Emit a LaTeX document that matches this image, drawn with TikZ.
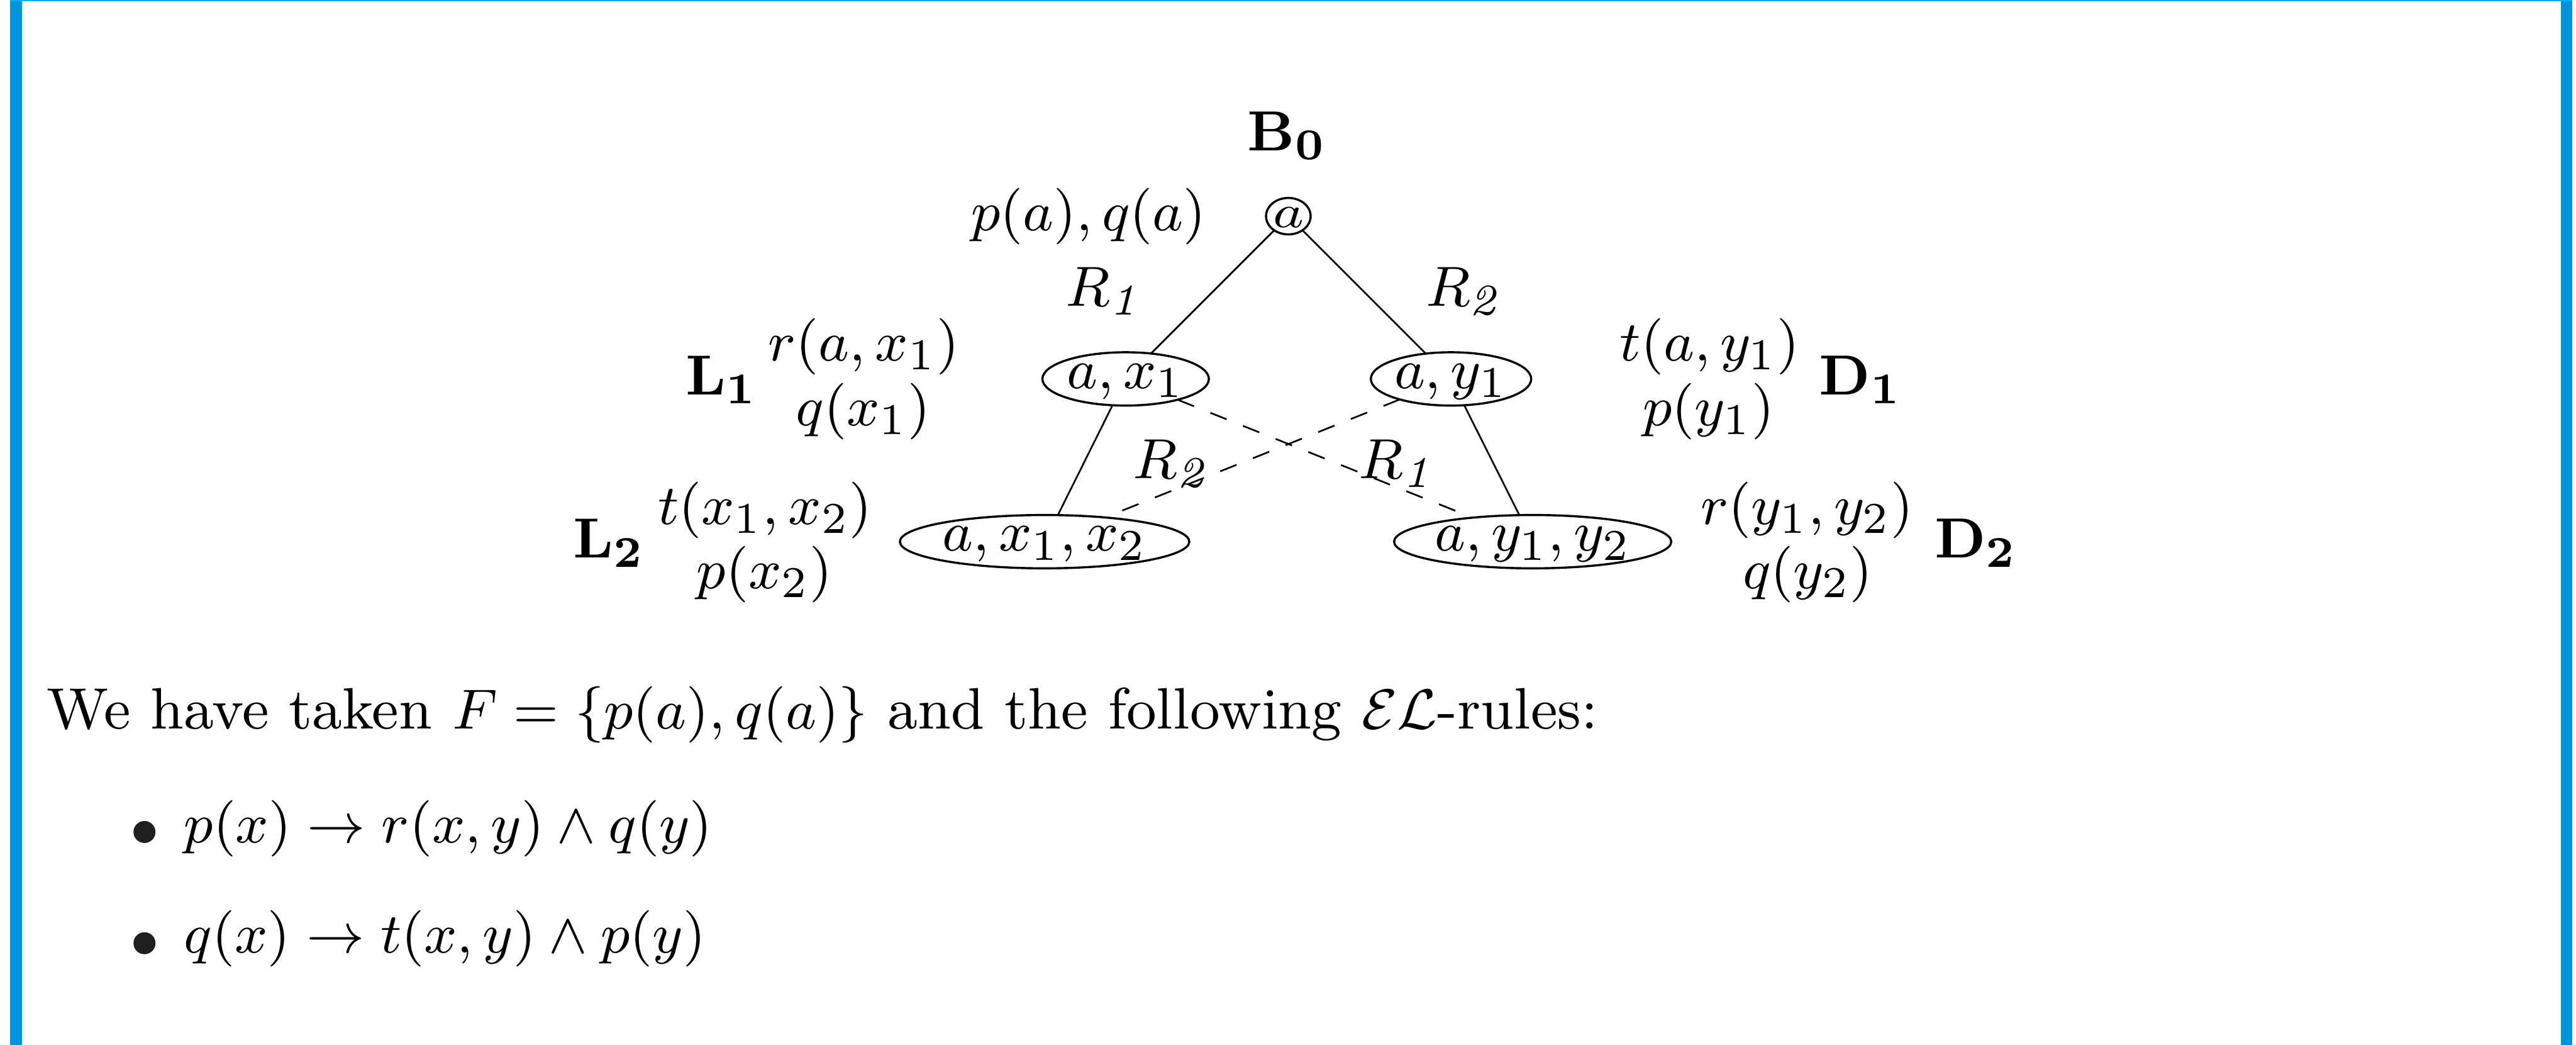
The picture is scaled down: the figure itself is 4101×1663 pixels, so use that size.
\documentclass[tikz,border=0pt]{standalone}
\usetikzlibrary{shapes.geometric}
\definecolor{barblue}{RGB}{0,147,217}
\definecolor{topcyan}{RGB}{0,176,240}
\begin{document}
\begin{tikzpicture}[x=0.1pt,y=-0.1pt,
  every node/.style={inner sep=0pt, outer sep=0pt, font=\fontsize{9.3}{11}\selectfont},
  lab/.style={anchor=base},
  bag/.style={draw, ellipse, line width=0.34pt, text height=0.45em, text depth=0.15em},
  edgeline/.style={line width=0.27pt},
  dashedge/.style={line width=0.27pt, dash pattern=on 2.8pt off 2.8pt},
  bulletdot/.style={circle, fill=black!88, minimum size=3.5pt}]
\useasboundingbox (0,0) rectangle (4101,1663);
\fill[white] (0,0) rectangle (4101,1663);
\fill[barblue] (16,0) rectangle (35,1663);
\fill[barblue] (4077,0) rectangle (4095,1663);
\fill[topcyan] (16,0) rectangle (4095,2);

% tree nodes
\node[bag, minimum width=7.1pt, minimum height=5.8pt, text height=0.35em, text depth=0pt] (root) at (2051,344) {\scalebox{1}[0.82]{$a$}};
\node[bag, minimum width=26pt, minimum height=8.3pt] (ax1) at (1792,603) {$a,x_1$};
\node[bag, minimum width=25pt, minimum height=8.3pt] (ay1) at (2310,603) {$a,y_1$};
\node[bag, minimum width=44.9pt, minimum height=8.1pt] (ax1x2) at (1663,862) {$a,x_1,x_2$};
\node[bag, minimum width=42.6pt, minimum height=8.1pt] (ay1y2) at (2440,862) {$a,y_1,y_2$};

% edges
\draw[edgeline] (root) -- (ax1);
\draw[edgeline] (root) -- (ay1);
\draw[edgeline] (ax1) -- (ax1x2);
\draw[edgeline] (ay1) -- (ay1y2);
\draw[dashedge] (ax1) -- (ay1y2);
\draw[dashedge] (ay1) -- (ax1x2);

% labels
\node[lab] (B0) at (2049,240) {$\mathbf{B_0}$};
\node[lab] (pq) at (1733,367) {$p(a), q(a)$};
\node[lab] (r1top) at (1760,487) {$R_{\mathit{1}}$};
\node[lab] (r2top) at (2333,487) {$R_{\mathit{2}}$};
\node[lab] (r2d) at (1867,761) {$R_{\mathit{2}}$};
\node[lab] (r1d) at (2226,761) {$R_{\mathit{1}}$};

\node[lab, anchor=base west] (L1) at (1092,628) {$\mathbf{L_1}$};
\node[lab] (l1a) at (1375,574) {$r(a,x_1)$};
\node[lab] (l1b) at (1374,677) {$q(x_1)$};
\node[lab, anchor=base west] (L2) at (913,888) {$\mathbf{L_2}$};
\node[lab] (l2a) at (1218,834) {$t(x_1,x_2)$};
\node[lab] (l2b) at (1217,937) {$p(x_2)$};

\node[lab] (d1a) at (2722,574) {$t(a,y_1)$};
\node[lab] (d1b) at (2720,677) {$p(y_1)$};
\node[lab, anchor=base west] (D1) at (2896,628) {$\mathbf{D_1}$};
\node[lab] (d2a) at (2877,834) {$r(y_1,y_2)$};
\node[lab] (d2b) at (2878,937) {$q(y_2)$};
\node[lab, anchor=base west] (D2) at (3080,888) {$\mathbf{D_2}$};

% body text
\node[anchor=base west] (txt) at (75,1160) {We have taken $F=\{p(a),q(a)\}$ and the following $\mathcal{EL}$-rules:};
\node[bulletdot] (b1) at (230,1324) {};
\node[anchor=base west] (rule1) at (293,1341) {$p(x)\to r(x,y)\wedge q(y)$};
\node[bulletdot] (b2) at (230,1501) {};
\node[anchor=base west] (rule2) at (293,1516) {$q(x)\to t(x,y)\wedge p(y)$};
\end{tikzpicture}
\end{document}
